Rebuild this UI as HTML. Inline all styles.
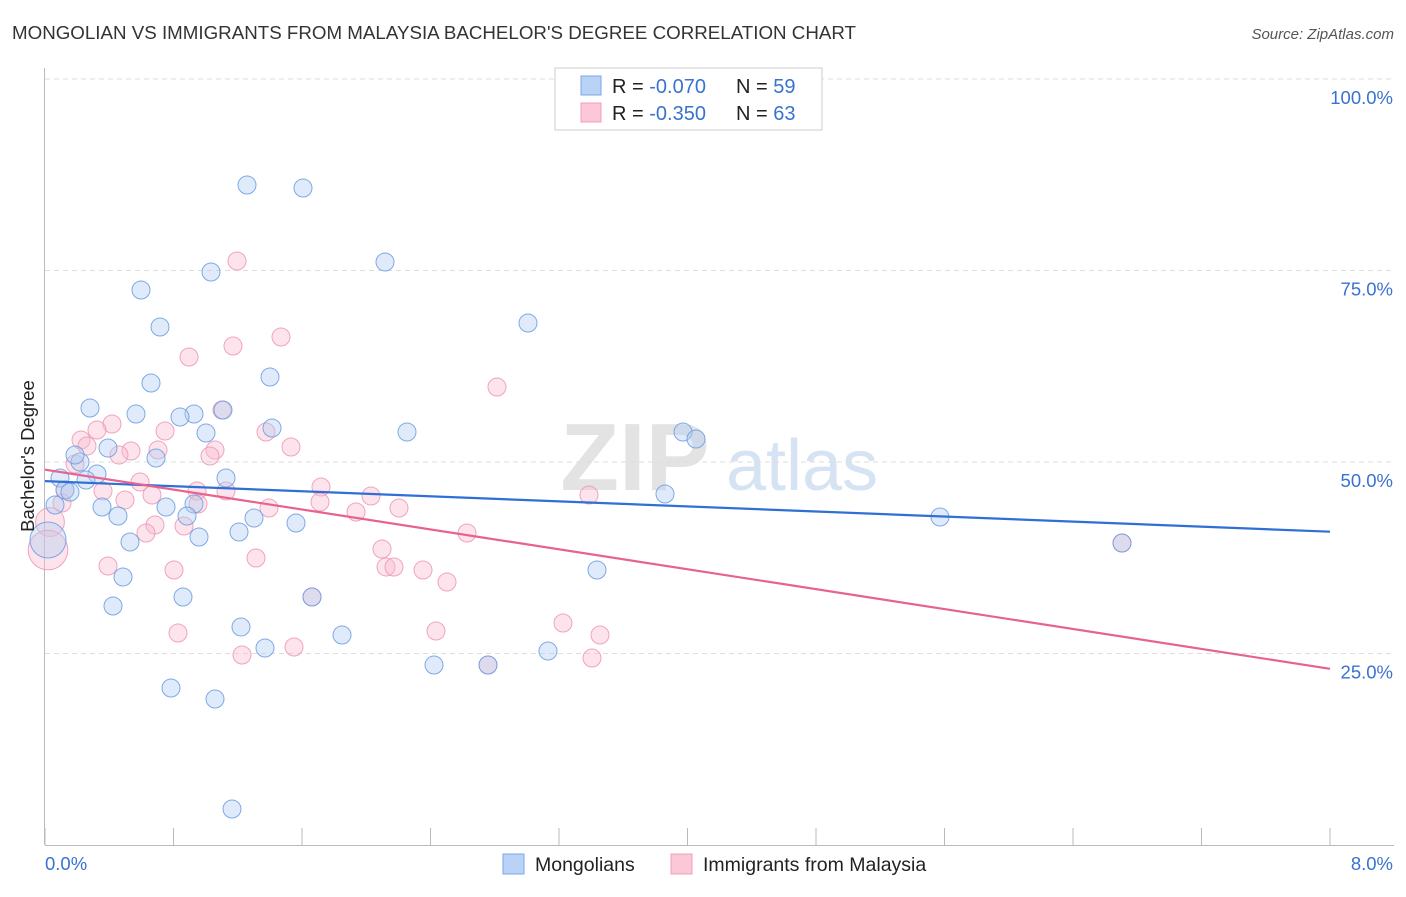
<!DOCTYPE html>
<html><head><meta charset="utf-8"><style>
body{margin:0;background:#fff;font-family:"Liberation Sans",sans-serif;}
svg text{font-family:"Liberation Sans",sans-serif;}
</style></head><body>
<svg id="c" width="1406" height="892" viewBox="0 0 1406 892">
<text x="12" y="39" font-size="18" fill="#333" textLength="844" lengthAdjust="spacingAndGlyphs">MONGOLIAN VS IMMIGRANTS FROM MALAYSIA BACHELOR'S DEGREE CORRELATION CHART</text>
<text x="1394" y="39" font-size="15" fill="#555" font-style="italic" text-anchor="end">Source: ZipAtlas.com</text>
<g><text x="635" y="490" font-size="96" fill="#e3e3e3" font-family="Liberation Serif" text-anchor="middle" font-weight="bold">ZIP</text><text x="802" y="490" font-size="72" fill="#d5e3f3" text-anchor="middle">atlas</text></g>
<g id="grid"></g><g id="axes"></g><g id="pts"></g><g id="lines"></g>
<g>
<rect x="555" y="68" width="267" height="62" fill="#fff" stroke="#ccc"/>
<rect x="581" y="76" width="20" height="19" fill="#b8d3f5" stroke="#7aa7e6"/>
<rect x="581" y="103" width="20" height="19" fill="#fcc8d8" stroke="#eea0b8"/>
<text x="612" y="93" font-size="20" fill="#222">R = <tspan fill="#3a72d0">-0.070</tspan><tspan x="736">N = </tspan><tspan fill="#3a72d0">59</tspan></text>
<text x="612" y="120" font-size="20" fill="#222">R = <tspan fill="#3a72d0">-0.350</tspan><tspan x="736">N = </tspan><tspan fill="#3a72d0">63</tspan></text>
</g>
<g>
<rect x="503" y="854" width="21" height="20" fill="#b8d3f5" stroke="#7aa7e6"/>
<text x="535" y="871" font-size="19.5" fill="#222">Mongolians</text>
<rect x="671" y="854" width="21" height="20" fill="#fcc8d8" stroke="#eea0b8"/>
<text x="703" y="871" font-size="19.5" fill="#222">Immigrants from Malaysia</text>
</g>
<text transform="translate(34,456) rotate(-90)" font-size="18.5" fill="#222" text-anchor="middle">Bachelor's Degree</text>
</svg>
<script>
const yTicks=[25,50,75,100];
const yTickLabels=["25.0%","50.0%","75.0%","100.0%"];
const xTickLabels=["0.0%","8.0%"];
const bluePx=[[247,185],[303,188],[385,262],[211,272],[141,290],[528,323],[160,327],[270,377],[151,383],[90,408],[136,414],[194,414],[180,417],[223,410],[407,432],[206,433],[683,432],[696,439],[272,428],[108,448],[156,458],[80,462],[75,455],[97,474],[226,478],[60,478],[86,480],[65,490],[70,492],[665,494],[102,507],[166,507],[194,504],[118,516],[187,516],[940,517],[254,518],[296,523],[239,532],[130,542],[199,537],[1122,543],[123,577],[597,570],[183,597],[113,606],[312,597],[241,627],[342,635],[265,648],[548,651],[434,665],[488,665],[171,688],[215,699],[232,809],[55,505],[48,540]];
const pinkPx=[[237,261],[281,337],[233,346],[189,357],[497,387],[222,410],[112,424],[97,430],[165,431],[266,432],[81,440],[158,450],[215,450],[291,447],[87,446],[131,451],[119,455],[210,456],[75,464],[140,482],[321,487],[103,491],[197,491],[226,491],[152,495],[371,496],[125,500],[198,504],[320,502],[399,508],[356,512],[269,508],[62,503],[184,526],[155,525],[467,533],[146,533],[382,549],[256,558],[108,566],[174,570],[386,567],[394,567],[423,570],[447,582],[312,597],[589,495],[563,623],[436,631],[600,635],[178,633],[294,647],[242,655],[592,658],[488,665],[1122,543],[50,522],[65,490],[48,550]];
const blueSize=new Array(bluePx.length).fill(1);blueSize[bluePx.length-1]=2;
const pinkSize=new Array(pinkPx.length).fill(1);pinkSize[pinkPx.length-1]=2.2;pinkSize[pinkPx.length-3]=1.6;
const blueTrend=[[0,47.5],[8,40.9]];
const pinkTrend=[[0,49.0],[8,23.0]];
const X0=45,X1=1330,Y0=845,YS=7.66;
const sx=v=>X0+v*(X1-X0)/8, sy=v=>Y0-v*YS;
const toData=p=>[(p[0]-X0)*8/(X1-X0),(Y0-p[1])/YS];
const blue=bluePx.map(toData), pink=pinkPx.map(toData);
const NS="http://www.w3.org/2000/svg";
function mk(t,a,par){const e=document.createElementNS(NS,t);for(const k in a)e.setAttribute(k,a[k]);document.getElementById(par).appendChild(e);return e;}
yTicks.forEach((v,i)=>{
 const l=mk('line',{x1:45,x2:1394,y1:sy(v),y2:sy(v),stroke:'#ddd','stroke-dasharray':'5,4'},'grid');
 
 
 const t=mk('text',{x:1393,y:sy(v)+25,'font-size':18.5,fill:'#3a72d0','text-anchor':'end'},'axes');
 t.textContent=yTickLabels[i];
 
 
});
let ax=mk('line',{x1:44.5,x2:44.5,y1:68,y2:845,stroke:'#bbb'},'axes');


ax=mk('line',{x1:45,x2:1394,y1:845.5,y2:845.5,stroke:'#bbb'},'axes');


for(let i=0;i<=10;i++){const tk=mk('line',{x1:sx(i*0.8),x2:sx(i*0.8),y1:828,y2:845,stroke:'#bbb'},'axes');
 
 }
[[45,'start',0],[1393,'end',1]].forEach(a=>{const t=mk('text',{x:a[0],y:870,'font-size':18.5,fill:'#3a72d0','text-anchor':a[1]},'axes');t.textContent=xTickLabels[a[2]];
 
 });
function pts(d,sz,fill,stroke,name){d.forEach((p,i)=>{const c=mk('circle',{cx:sx(p[0]),cy:sy(p[1]),r:9*sz[i],fill:fill,'fill-opacity':0.4,stroke:stroke,'stroke-width':1,'stroke-opacity':0.85},'pts');
 
 });}
pts(pink,pinkSize,'#f9bcd0','#ec97b3','point-malaysia');
pts(blue,blueSize,'#b0cdf2','#6b9ce0','point-mongolian');
let ln=mk('line',{x1:sx(blueTrend[0][0]),y1:sy(blueTrend[0][1]),x2:sx(blueTrend[1][0]),y2:sy(blueTrend[1][1]),stroke:'#2f6fd6','stroke-width':2.2},'lines');


ln=mk('line',{x1:sx(pinkTrend[0][0]),y1:sy(pinkTrend[0][1]),x2:sx(pinkTrend[1][0]),y2:sy(pinkTrend[1][1]),stroke:'#e6638f','stroke-width':2.2},'lines');


</script>
</body></html>
